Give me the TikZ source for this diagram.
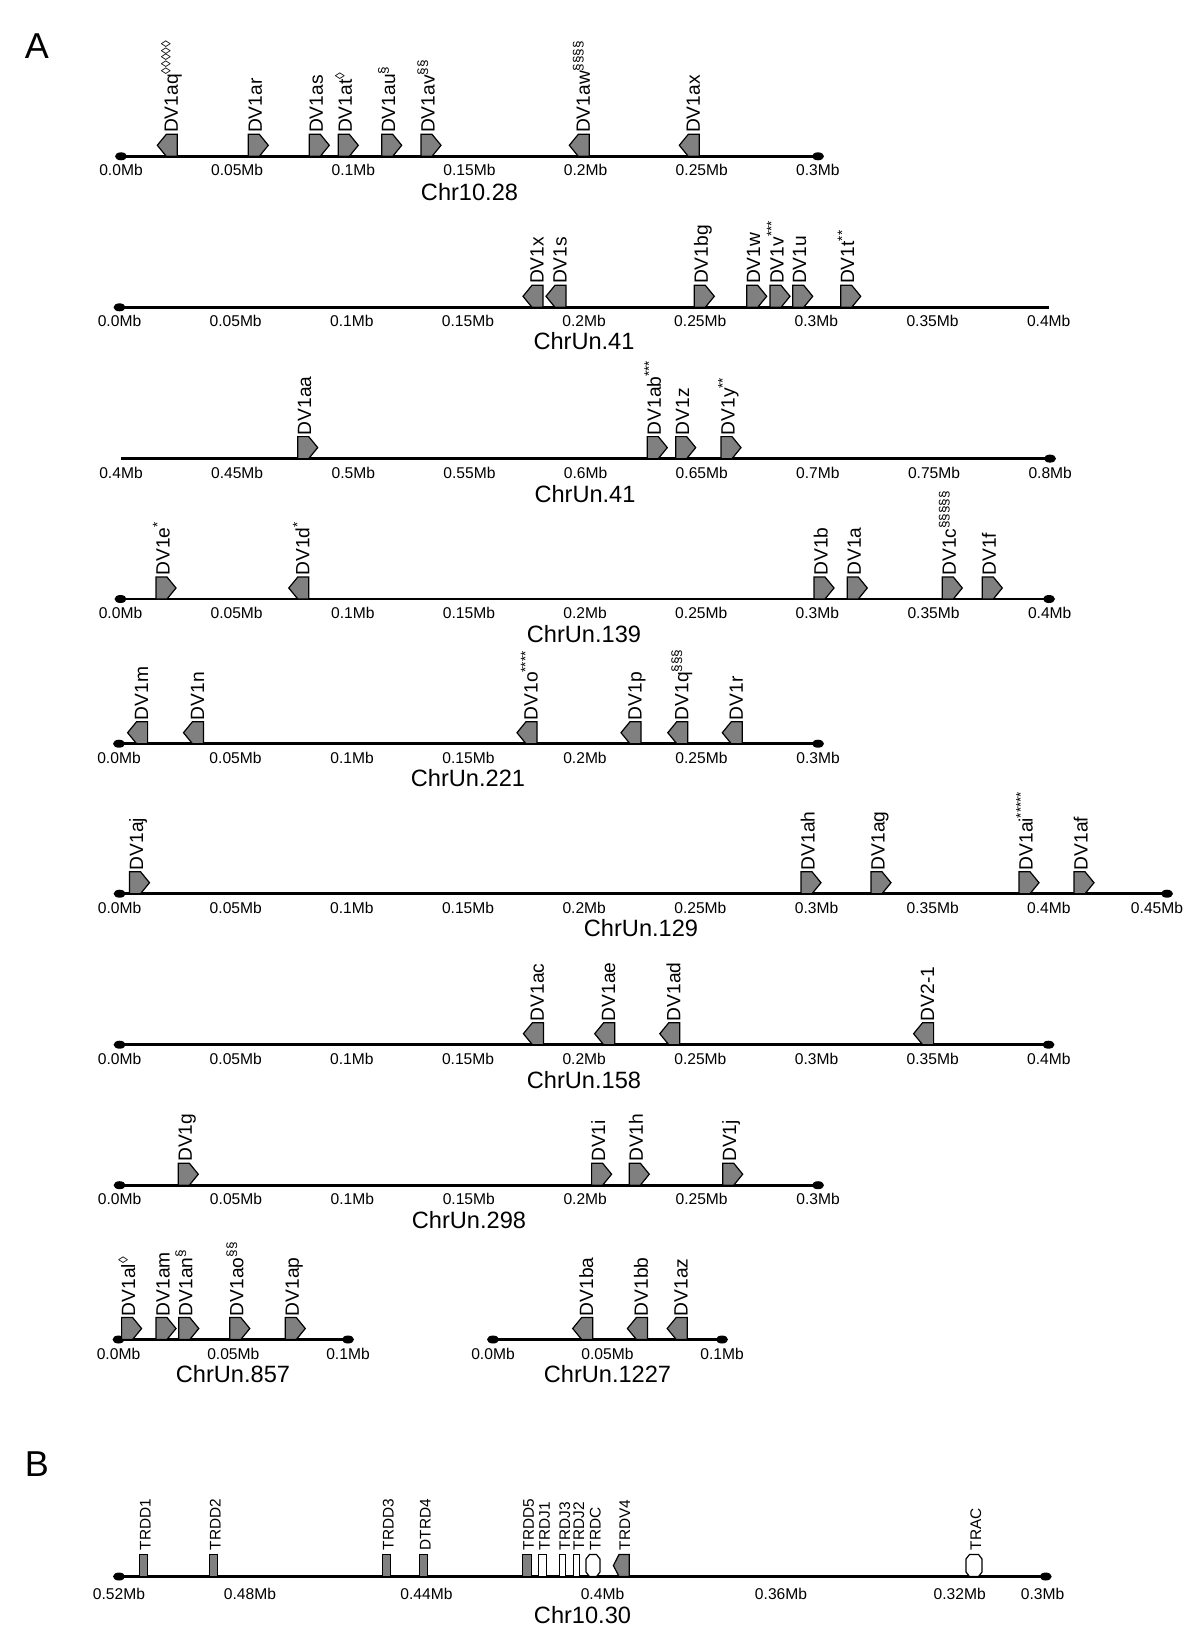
\documentclass[tikz,border=0pt]{standalone}
\usepackage{fontspec}
\setmainfont{Liberation Sans}
\definecolor{genegray}{RGB}{128,128,128}
\tikzset{
  chrline/.style={line width=1.3pt},
  gene/.style={fill=genegray, draw=black, line width=0.6pt, line join=miter},
  wgene/.style={fill=white, draw=black, line width=0.6pt, line join=miter},
  glabel/.style={rotate=90, anchor=base west, inner sep=0pt, font=\fontsize{9.6}{10}\selectfont},
  blabel/.style={rotate=90, anchor=base west, inner sep=0pt, font=\fontsize{7.7}{8}\selectfont},
  tlabel/.style={inner sep=0pt, font=\fontsize{7.8}{9}\selectfont},
  cname/.style={inner sep=0pt, font=\fontsize{11.8}{13}\selectfont},
  panel/.style={inner sep=0pt, font=\fontsize{18}{20}\selectfont},
}
% right-pointing gene: name, left x, line y, label
\newcommand\geneR[4]{%
  \draw[gene] (#2,#3) -- (#2,#3-22) -- (#2+11,#3-22) -- (#2+20,#3-11) -- (#2+11,#3) -- cycle;
  \node[glabel] (#1) at (#2+13.5,#3-23) {#4};
}
% left-pointing gene
\newcommand\geneL[4]{%
  \draw[gene] (#2+20,#3) -- (#2+20,#3-22) -- (#2+9,#3-22) -- (#2,#3-11) -- (#2+9,#3) -- cycle;
  \node[glabel] (#1) at (#2+20.5,#3-23) {#4};
}
\newcommand\chrdot[2]{\fill (#1,#2) ellipse [x radius=3pt, y radius=2pt];}
\begin{document}
\begin{tikzpicture}[x=0.5pt,y=-0.5pt]
\useasboundingbox (0,0) rectangle (1200,1645);

\node[panel] (pA) at (37,46) {A};
\node[panel] (pB) at (37,1464) {B};

% ---------- Row 1: Chr10.28 ----------
\draw[chrline] (121,156.3) -- (818,156.3);
\chrdot{121}{156.3}\chrdot{818}{156.3}
\foreach \v/\t [count=\i] in {0/0.0,0.05/0.05,0.1/0.1,0.15/0.15,0.2/0.2,0.25/0.25,0.3/0.3}
  \node[tlabel] (ta\i) at (121+\v*2323,170.3) {\t Mb};
\node[cname] (c1) at (469.5,192) {Chr10.28};
\geneL{gaq}{157.3}{156.3}{DV1aq\textsuperscript{◊◊◊◊◊}}
\geneR{gar}{248.3}{156.3}{DV1ar}
\geneR{gas}{309.3}{156.3}{DV1as}
\geneR{gat}{338.3}{156.3}{DV1at\textsuperscript{◊}}
\geneR{gau}{381.7}{156.3}{DV1au\textsuperscript{§}}
\geneR{gav}{421}{156.3}{DV1av\textsuperscript{§§}}
\geneL{gaw}{569.3}{156.3}{DV1aw\textsuperscript{§§§§}}
\geneL{gax}{679.3}{156.3}{DV1ax}

% ---------- Row 2: ChrUn.41 (0-0.4) ----------
\draw[chrline] (119.5,307.3) -- (1049,307.3);
\chrdot{119.5}{307.3}
\foreach \v/\t [count=\i] in {0/0.0,0.05/0.05,0.1/0.1,0.15/0.15,0.2/0.2,0.25/0.25,0.3/0.3,0.35/0.35,0.4/0.4}
  \node[tlabel] (tb\i) at (119.5+\v*2323,321.3) {\t Mb};
\node[cname] (c2) at (584,341) {ChrUn.41};
\geneL{gx}{523}{307.3}{DV1x}
\geneL{gs}{546}{307.3}{DV1s}
\geneR{gbg}{694.3}{307.3}{DV1bg}
\geneR{gw}{746.7}{307.3}{DV1w}
\geneR{gv}{770}{307.3}{DV1v\textsuperscript{***}}
\geneR{gu}{792.7}{307.3}{DV1u}
\geneR{gt}{840.7}{307.3}{DV1t\textsuperscript{**}}

% ---------- Row 3: ChrUn.41 (0.4-0.8) ----------
\draw[chrline] (121,458.6) -- (1050,458.6);
\chrdot{1050}{458.6}
\foreach \v/\t [count=\i] in {0.4/0.4,0.45/0.45,0.5/0.5,0.55/0.55,0.6/0.6,0.65/0.65,0.7/0.7,0.75/0.75,0.8/0.8}
  \node[tlabel] (tc\i) at (121+\v*2323-0.4*2323,472.6) {\t Mb};
\node[cname] (c3) at (585,494) {ChrUn.41};
\geneR{gaa}{297.7}{458.6}{DV1aa}
\geneR{gab}{647.3}{458.6}{DV1ab\textsuperscript{***}}
\geneR{gz}{675.7}{458.6}{DV1z}
\geneR{gy}{721}{458.6}{DV1y\textsuperscript{**}}

% ---------- Row 4: ChrUn.139 ----------
\draw[chrline] (120.5,599) -- (1049,599);
\chrdot{120.5}{599}\chrdot{1049}{599}
\foreach \v/\t [count=\i] in {0/0.0,0.05/0.05,0.1/0.1,0.15/0.15,0.2/0.2,0.25/0.25,0.3/0.3,0.35/0.35,0.4/0.4}
  \node[tlabel] (td\i) at (120.5+\v*2323,613) {\t Mb};
\node[cname] (c4) at (584,634.5) {ChrUn.139};
\geneR{ge}{156}{599}{DV1e\textsuperscript{*}}
\geneL{gd}{288.8}{599}{DV1d\textsuperscript{*}}
\geneR{gb}{814}{599}{DV1b}
\geneR{ga}{847.3}{599}{DV1a}
\geneR{gc}{942.3}{599}{DV1c\textsuperscript{§§§§§}}
\geneR{gf}{982.3}{599}{DV1f}

% ---------- Row 5: ChrUn.221 ----------
\draw[chrline] (119,743.7) -- (818,743.7);
\chrdot{119}{743.7}\chrdot{818}{743.7}
\foreach \v/\t [count=\i] in {0/0.0,0.05/0.05,0.1/0.1,0.15/0.15,0.2/0.2,0.25/0.25,0.3/0.3}
  \node[tlabel] (te\i) at (119+\v*2330,757.7) {\t Mb};
\node[cname] (c5) at (468,778) {ChrUn.221};
\geneL{gm}{127.6}{743.7}{DV1m}
\geneL{gn}{183.5}{743.7}{DV1n}
\geneL{go}{517}{743.7}{DV1o\textsuperscript{****}}
\geneL{gp}{621}{743.7}{DV1p}
\geneL{gq}{667.8}{743.7}{DV1q\textsuperscript{§§§}}
\geneL{gr}{722.3}{743.7}{DV1r}

% ---------- Row 6: ChrUn.129 ----------
\draw[chrline] (119.6,893.7) -- (1167,893.7);
\chrdot{119.6}{893.7}\chrdot{1167}{893.7}
\foreach \v/\t [count=\i] in {0/0.0,0.05/0.05,0.1/0.1,0.15/0.15,0.2/0.2,0.25/0.25,0.3/0.3,0.35/0.35,0.4/0.4}
  \node[tlabel] (tf\i) at (119.6+\v*2323,907.7) {\t Mb};
\node[tlabel] (tf10) at (1157,907.7) {0.45Mb};
\node[cname] (c6) at (641,928) {ChrUn.129};
\geneR{gaj}{129.5}{893.7}{DV1aj}
\geneR{gah}{801}{893.7}{DV1ah}
\geneR{gag}{871}{893.7}{DV1ag}
\geneR{gai}{1019}{893.7}{DV1ai\textsuperscript{*****}}
\geneR{gaf}{1074}{893.7}{DV1af}

% ---------- Row 7: ChrUn.158 ----------
\draw[chrline] (119.6,1044.7) -- (1048.5,1044.7);
\chrdot{119.6}{1044.7}\chrdot{1048.5}{1044.7}
\foreach \v/\t [count=\i] in {0/0.0,0.05/0.05,0.1/0.1,0.15/0.15,0.2/0.2,0.25/0.25,0.3/0.3,0.35/0.35,0.4/0.4}
  \node[tlabel] (tg\i) at (119.6+\v*2323,1058.7) {\t Mb};
\node[cname] (c7) at (584,1080) {ChrUn.158};
\geneL{gac}{523.4}{1044.7}{DV1ac}
\geneL{gae}{594.7}{1044.7}{DV1ae}
\geneL{gad}{659.8}{1044.7}{DV1ad}
\geneL{gdv}{913.6}{1044.7}{DV2-1}

% ---------- Row 8: ChrUn.298 ----------
\draw[chrline] (119.6,1185.2) -- (818,1185.2);
\chrdot{119.6}{1185.2}\chrdot{818}{1185.2}
\foreach \v/\t [count=\i] in {0/0.0,0.05/0.05,0.1/0.1,0.15/0.15,0.2/0.2,0.25/0.25,0.3/0.3}
  \node[tlabel] (th\i) at (119.6+\v*2328,1199.2) {\t Mb};
\node[cname] (c8) at (469,1220) {ChrUn.298};
\geneR{gg}{178.3}{1185.2}{DV1g}
\geneR{gi}{591.6}{1185.2}{DV1i}
\geneR{gh}{629.3}{1185.2}{DV1h}
\geneR{gj}{722.7}{1185.2}{DV1j}

% ---------- Row 9: ChrUn.857 and ChrUn.1227 ----------
\draw[chrline] (118.5,1339.5) -- (348,1339.5);
\chrdot{118.5}{1339.5}\chrdot{348}{1339.5}
\node[tlabel] (ti1) at (118.5,1353.5) {0.0Mb};
\node[tlabel] (ti2) at (233.3,1353.5) {0.05Mb};
\node[tlabel] (ti3) at (348,1353.5) {0.1Mb};
\node[cname] (c9) at (233,1374) {ChrUn.857};
\geneR{gal}{121.6}{1339.5}{DV1al\textsuperscript{◊}}
\geneR{gam}{156}{1339.5}{DV1am}
\geneR{gan}{178.8}{1339.5}{DV1an\textsuperscript{§}}
\geneR{gao}{229.8}{1339.5}{DV1ao\textsuperscript{§§}}
\geneR{gap}{285.3}{1339.5}{DV1ap}

\draw[chrline] (493,1339.5) -- (722,1339.5);
\chrdot{493}{1339.5}\chrdot{722}{1339.5}
\node[tlabel] (tj1) at (493,1353.5) {0.0Mb};
\node[tlabel] (tj2) at (607.5,1353.5) {0.05Mb};
\node[tlabel] (tj3) at (722,1353.5) {0.1Mb};
\node[cname] (c10) at (607.5,1374) {ChrUn.1227};
\geneL{gba}{572.7}{1339.5}{DV1ba}
\geneL{gbb}{627.4}{1339.5}{DV1bb}
\geneL{gaz}{667.2}{1339.5}{DV1az}

% ---------- Panel B: Chr10.30 ----------
\draw[chrline] (119,1576.5) -- (1045.7,1576.5);
\chrdot{119}{1576.5}\chrdot{1045.7}{1576.5}
\foreach \x/\t [count=\i] in {119/0.52,250/0.48,426.5/0.44,602.5/0.4,781/0.36,959.7/0.32,1042.6/0.3}
  \node[tlabel] (tk\i) at (\x,1593.5) {\t Mb};
\node[cname] (c11) at (582.5,1615) {Chr10.30};
% gray segments
\foreach \a/\w/\n/\l in {139.5/7.7/d1/TRDD1, 209.7/7.7/d2/TRDD2, 382.5/7.7/d3/TRDD3, 419.5/7.7/d4/DTRD4, 522.8/8.3/d5/TRDD5}{
  \draw[gene] (\a,1576.5) rectangle (\a+\w,1554.5);
  \node[blabel] (b\n) at (\a+11,1550.5) {\l};
}
% white J segments
\foreach \a/\w/\n/\l in {538.8/7.6/j1/TRDJ1, 559.2/6.4/j3/TRDJ3, 573.2/6.4/j2/TRDJ2}{
  \draw[wgene] (\a,1576.5) rectangle (\a+\w,1554.5);
  \node[blabel] (b\n) at (\a+11,1550.5) {\l};
}
% TRDC
\draw[wgene] (586,1572) -- (586,1559) -- (589.5,1554.5) -- (596.5,1554.5) -- (600,1559) -- (600,1572) -- (596.5,1576.5) -- (589.5,1576.5) -- cycle;
\node[blabel] (bc) at (600.5,1550.5) {TRDC};
% TRDV4
\draw[gene] (629.3,1576.5) -- (629.3,1554.5) -- (619,1554.5) -- (613.4,1565.5) -- (619,1576.5) -- cycle;
\node[blabel] (bv4) at (630,1550.5) {TRDV4};
% TRAC
\draw[wgene] (966,1572) -- (966,1559) -- (969.5,1554.5) -- (978.5,1554.5) -- (982,1559) -- (982,1572) -- (978.5,1576.5) -- (969.5,1576.5) -- cycle;
\node[blabel] (bac) at (981,1550.5) {TRAC};
\end{tikzpicture}
\end{document}
